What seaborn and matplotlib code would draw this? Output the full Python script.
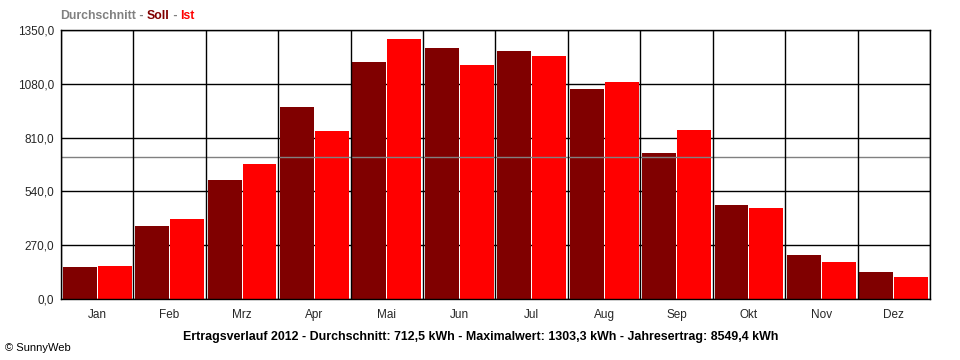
import pandas as pd
import numpy as np
import matplotlib
matplotlib.use('Agg')
import matplotlib.pyplot as plt
import seaborn as sns

months = ['Jan', 'Feb', 'Mrz', 'Apr', 'Mai', 'Jun', 'Jul', 'Aug', 'Sep', 'Okt', 'Nov', 'Dez']
soll = [160, 366, 597, 963, 1189, 1259, 1244, 1054, 733, 472, 221, 135]
ist = [165, 401, 677, 843, 1303.3, 1174, 1219, 1089, 848, 457, 186, 110]
durchschnitt = 712.5
y_ticks = [0, 270, 540, 810, 1080, 1350]
y_labels = ['0,0', '270,0', '540,0', '810,0', '1080,0', '1350,0']
footer = 'Ertragsverlauf 2012 - Durchschnitt: 712,5 kWh - Maximalwert: 1303,3 kWh - Jahresertrag: 8549,4 kWh'

df = pd.DataFrame({'Monat': months * 2,
                   'Ertrag': soll + ist,
                   'Serie': ['Soll'] * 12 + ['Ist'] * 12})

sns.set_style('white')
plt.rcParams['font.family'] = ['Liberation Sans', 'DejaVu Sans']

fig = plt.figure(figsize=(9.6, 3.6), dpi=100)
ax = fig.add_axes([61 / 960, 61 / 360, 869 / 960, 269 / 360])

# grid: horizontal lines behind the bars, month separators in front
for y in y_ticks:
    ax.axhline(y, color='black', lw=1.0, zorder=0)
for i in range(13):
    ax.axvline(i - 0.5, color='black', lw=1.0, zorder=4)

sns.barplot(data=df, x='Monat', y='Ertrag', hue='Serie', order=months,
            hue_order=['Soll', 'Ist'], palette={'Soll': '#800000', 'Ist': '#ff0000'},
            width=0.965, gap=0.03, saturation=1, legend=False, ax=ax, zorder=2,
            edgecolor='none', errorbar=None)

# average line
ax.axhline(durchschnitt, color='#808080', lw=1.0, zorder=3)

ax.set_xlim(-0.5, 11.5)
ax.set_ylim(0, 1350)
ax.set_yticks(y_ticks)
ax.set_yticklabels(y_labels)
ax.set_xticks(np.arange(12))
ax.set_xticklabels(months)
ax.tick_params(axis='x', length=0, pad=7, labelsize=8.5)
ax.tick_params(axis='y', length=4, width=1, color='black', direction='out', pad=1, labelsize=8.5)
ax.set_xticks(np.arange(13) - 0.5, minor=True)
ax.tick_params(axis='x', which='minor', length=4, width=1, color='black', direction='out')
ax.set_xlabel('')
ax.set_ylabel('')
for s in ax.spines.values():
    s.set_color('black')
    s.set_linewidth(1.0)
    s.set_zorder(5)

# title legend
t1 = fig.text(60 / 960, 1 - 16 / 360, 'Durchschnitt', color='#808080', fontsize=8.8,
              fontweight='bold', va='center')
t2 = ax.annotate(' - ', xy=(1, 0), xycoords=t1, color='#808080', fontsize=8.8,
                 fontweight='bold', va='bottom')
t3 = ax.annotate('Soll', xy=(1, 0), xycoords=t2, color='#800000', fontsize=8.8,
                 fontweight='bold', va='bottom')
t4 = ax.annotate(' - ', xy=(1, 0), xycoords=t3, color='#808080', fontsize=8.8,
                 fontweight='bold', va='bottom')
ax.annotate('Ist', xy=(1, 0), xycoords=t4, color='#ff0000', fontsize=8.8,
            fontweight='bold', va='bottom')

fig.text(481 / 960, 1 - 337 / 360, footer, ha='center', va='center',
         fontsize=8.9, fontweight='bold', color='black')
fig.text(5 / 960, 1 - 348 / 360, '© SunnyWeb', ha='left', va='center',
         fontsize=8, color='black')

fig.savefig('out.png', dpi=100, facecolor='white')
